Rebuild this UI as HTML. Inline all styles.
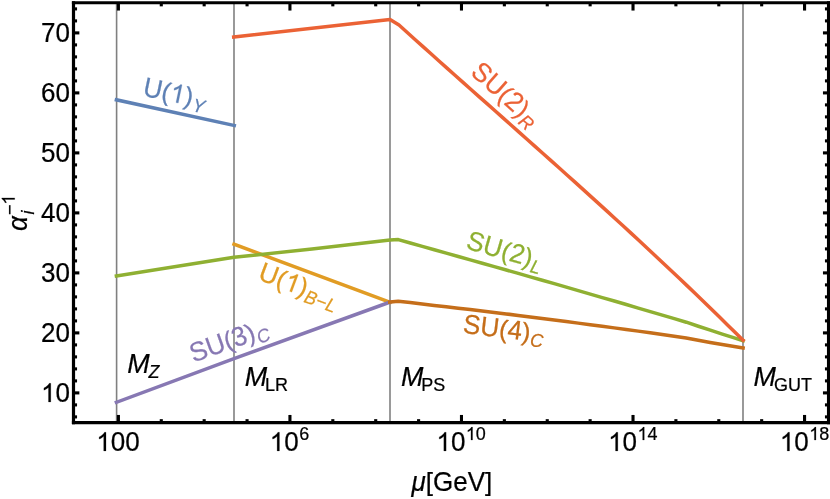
<!DOCTYPE html>
<html><head><meta charset="utf-8"><title>plot</title>
<style>
html,body{margin:0;padding:0;background:#fff;}
body{width:830px;height:499px;overflow:hidden;}
svg{display:block;will-change:transform;transform:translateZ(0);}
text{font-family:"Liberation Sans",sans-serif;}
</style></head><body>
<svg width="830" height="499" viewBox="0 0 830 499">
<rect width="830" height="499" fill="#fff"/>

<g stroke="#808080" stroke-width="1.6">
<line x1="116.6" y1="2.8" x2="116.6" y2="422.7"/>
<line x1="234.0" y1="2.8" x2="234.0" y2="422.7"/>
<line x1="390.0" y1="2.8" x2="390.0" y2="422.7"/>
<line x1="743.0" y1="2.8" x2="743.0" y2="422.7"/>
</g>
<g>
<polyline points="116.4,99.8 234.3,125.5" fill="none" stroke="#5e81b5" stroke-width="3.5" stroke-linecap="square" stroke-linejoin="round"/>
<polyline points="234,244.2 390,302.3" fill="none" stroke="#e19c24" stroke-width="3.5" stroke-linecap="square" stroke-linejoin="round"/>
<polyline points="116.4,276.0 234,257.3 312,248.9 390,240.0 398.3,239.6 410.3,242.97 422.3,246.35 434.3,249.72 446.3,253.1 458.3,256.47 470.3,259.84 482.3,263.22 494.3,266.6 506.3,270.01 518.3,273.41 530.3,276.82 542.3,280.24 554.3,283.67 566.3,287.12 578.3,290.6 590.3,294.07 602.3,297.56 614.3,301.05 626.3,304.55 638.3,308.07 650.3,311.59 662.3,315.12 674.3,318.66 686.3,322.21 698.3,326.25 710.3,330.18 722.3,334.07 734.3,337.92 743.1,340.7" fill="none" stroke="#8fb032" stroke-width="3.5" stroke-linecap="square" stroke-linejoin="round"/>
<polyline points="233.7,37.0 390,19.4 399,25.06 407,32.28 415,39.47 423,46.65 431,53.81 439,60.96 447,68.1 455,75.23 463,82.35 471,89.46 479,96.57 487,103.67 495,110.78 503,117.88 511,124.99 519,132.11 527,139.22 535,146.35 543,153.49 551,160.64 559,167.8 567,174.97 575,182.17 583,189.38 591,196.61 599,203.86 607,211.14 615,218.45 623,225.78 631,233.14 639,240.53 647,247.96 655,255.42 663,262.91 671,270.45 679,278.02 687,285.64 695,293.3 703,301.0 711,308.75 719,316.56 727,324.41 735,332.31 743.1,340.37" fill="none" stroke="#eb6235" stroke-width="3.5" stroke-linecap="square" stroke-linejoin="round"/>
<polyline points="116.4,402.3 234,358.7 390,302.1" fill="none" stroke="#8778b3" stroke-width="3.5" stroke-linecap="square" stroke-linejoin="round"/>
<polyline points="389.7,302.1 398.2,301.2 410.2,302.6 422.2,303.99 434.2,305.39 446.2,306.79 458.2,308.18 470.2,309.56 482.2,310.96 494.2,312.4 506.2,313.89 518.2,315.4 530.2,316.92 542.2,318.46 554.2,320.0 566.2,321.56 578.2,323.13 590.2,324.71 602.2,326.29 614.2,327.88 626.2,329.49 638.2,331.12 650.2,332.78 662.2,334.47 674.2,336.19 686.2,337.95 698.2,340.27 710.2,342.43 722.2,344.53 734.2,346.56 743.1,348.0" fill="none" stroke="#c56e1a" stroke-width="3.5" stroke-linecap="square" stroke-linejoin="round"/>
</g>
<g stroke="#000" stroke-linecap="butt"><line x1="71.9" y1="2.8" x2="830.1" y2="2.8" stroke-width="2.9"/><line x1="71.9" y1="422.7" x2="830.1" y2="422.7" stroke-width="3.2"/><line x1="73.5" y1="1.3499999999999999" x2="73.5" y2="424.3" stroke-width="3.2"/><line x1="828.5" y1="1.3499999999999999" x2="828.5" y2="424.3" stroke-width="3.1"/></g>
<g stroke="#000" stroke-width="3.1">
<line x1="73.5" y1="416.9" x2="77.05" y2="416.9"/>
<line x1="828.5" y1="416.9" x2="824.95" y2="416.9"/>
<line x1="73.5" y1="404.9" x2="77.05" y2="404.9"/>
<line x1="828.5" y1="404.9" x2="824.95" y2="404.9"/>
<line x1="73.5" y1="392.9" x2="79.35" y2="392.9"/>
<line x1="828.5" y1="392.9" x2="822.95" y2="392.9"/>
<line x1="73.5" y1="380.9" x2="77.05" y2="380.9"/>
<line x1="828.5" y1="380.9" x2="824.95" y2="380.9"/>
<line x1="73.5" y1="368.9" x2="77.05" y2="368.9"/>
<line x1="828.5" y1="368.9" x2="824.95" y2="368.9"/>
<line x1="73.5" y1="356.9" x2="77.05" y2="356.9"/>
<line x1="828.5" y1="356.9" x2="824.95" y2="356.9"/>
<line x1="73.5" y1="344.9" x2="77.05" y2="344.9"/>
<line x1="828.5" y1="344.9" x2="824.95" y2="344.9"/>
<line x1="73.5" y1="332.9" x2="79.35" y2="332.9"/>
<line x1="828.5" y1="332.9" x2="822.95" y2="332.9"/>
<line x1="73.5" y1="320.9" x2="77.05" y2="320.9"/>
<line x1="828.5" y1="320.9" x2="824.95" y2="320.9"/>
<line x1="73.5" y1="308.9" x2="77.05" y2="308.9"/>
<line x1="828.5" y1="308.9" x2="824.95" y2="308.9"/>
<line x1="73.5" y1="296.9" x2="77.05" y2="296.9"/>
<line x1="828.5" y1="296.9" x2="824.95" y2="296.9"/>
<line x1="73.5" y1="284.9" x2="77.05" y2="284.9"/>
<line x1="828.5" y1="284.9" x2="824.95" y2="284.9"/>
<line x1="73.5" y1="272.9" x2="79.35" y2="272.9"/>
<line x1="828.5" y1="272.9" x2="822.95" y2="272.9"/>
<line x1="73.5" y1="260.9" x2="77.05" y2="260.9"/>
<line x1="828.5" y1="260.9" x2="824.95" y2="260.9"/>
<line x1="73.5" y1="248.9" x2="77.05" y2="248.9"/>
<line x1="828.5" y1="248.9" x2="824.95" y2="248.9"/>
<line x1="73.5" y1="236.9" x2="77.05" y2="236.9"/>
<line x1="828.5" y1="236.9" x2="824.95" y2="236.9"/>
<line x1="73.5" y1="224.9" x2="77.05" y2="224.9"/>
<line x1="828.5" y1="224.9" x2="824.95" y2="224.9"/>
<line x1="73.5" y1="212.9" x2="79.35" y2="212.9"/>
<line x1="828.5" y1="212.9" x2="822.95" y2="212.9"/>
<line x1="73.5" y1="200.9" x2="77.05" y2="200.9"/>
<line x1="828.5" y1="200.9" x2="824.95" y2="200.9"/>
<line x1="73.5" y1="188.9" x2="77.05" y2="188.9"/>
<line x1="828.5" y1="188.9" x2="824.95" y2="188.9"/>
<line x1="73.5" y1="176.9" x2="77.05" y2="176.9"/>
<line x1="828.5" y1="176.9" x2="824.95" y2="176.9"/>
<line x1="73.5" y1="164.9" x2="77.05" y2="164.9"/>
<line x1="828.5" y1="164.9" x2="824.95" y2="164.9"/>
<line x1="73.5" y1="152.9" x2="79.35" y2="152.9"/>
<line x1="828.5" y1="152.9" x2="822.95" y2="152.9"/>
<line x1="73.5" y1="140.9" x2="77.05" y2="140.9"/>
<line x1="828.5" y1="140.9" x2="824.95" y2="140.9"/>
<line x1="73.5" y1="128.9" x2="77.05" y2="128.9"/>
<line x1="828.5" y1="128.9" x2="824.95" y2="128.9"/>
<line x1="73.5" y1="116.9" x2="77.05" y2="116.9"/>
<line x1="828.5" y1="116.9" x2="824.95" y2="116.9"/>
<line x1="73.5" y1="104.9" x2="77.05" y2="104.9"/>
<line x1="828.5" y1="104.9" x2="824.95" y2="104.9"/>
<line x1="73.5" y1="92.9" x2="79.35" y2="92.9"/>
<line x1="828.5" y1="92.9" x2="822.95" y2="92.9"/>
<line x1="73.5" y1="80.9" x2="77.05" y2="80.9"/>
<line x1="828.5" y1="80.9" x2="824.95" y2="80.9"/>
<line x1="73.5" y1="68.9" x2="77.05" y2="68.9"/>
<line x1="828.5" y1="68.9" x2="824.95" y2="68.9"/>
<line x1="73.5" y1="56.9" x2="77.05" y2="56.9"/>
<line x1="828.5" y1="56.9" x2="824.95" y2="56.9"/>
<line x1="73.5" y1="44.9" x2="77.05" y2="44.9"/>
<line x1="828.5" y1="44.9" x2="824.95" y2="44.9"/>
<line x1="73.5" y1="32.9" x2="79.35" y2="32.9"/>
<line x1="828.5" y1="32.9" x2="822.95" y2="32.9"/>
<line x1="73.5" y1="20.9" x2="77.05" y2="20.9"/>
<line x1="828.5" y1="20.9" x2="824.95" y2="20.9"/>
<line x1="73.5" y1="8.9" x2="77.05" y2="8.9"/>
<line x1="828.5" y1="8.9" x2="824.95" y2="8.9"/>
<line x1="118.40" y1="422.7" x2="118.40" y2="414.95"/>
<line x1="118.40" y1="2.8" x2="118.40" y2="10.55"/>
<line x1="161.28" y1="422.7" x2="161.28" y2="419.15"/>
<line x1="161.28" y1="2.8" x2="161.28" y2="6.35"/>
<line x1="204.17" y1="422.7" x2="204.17" y2="419.15"/>
<line x1="204.17" y1="2.8" x2="204.17" y2="6.35"/>
<line x1="247.06" y1="422.7" x2="247.06" y2="419.15"/>
<line x1="247.06" y1="2.8" x2="247.06" y2="6.35"/>
<line x1="289.94" y1="422.7" x2="289.94" y2="414.95"/>
<line x1="289.94" y1="2.8" x2="289.94" y2="10.55"/>
<line x1="332.82" y1="422.7" x2="332.82" y2="419.15"/>
<line x1="332.82" y1="2.8" x2="332.82" y2="6.35"/>
<line x1="375.71" y1="422.7" x2="375.71" y2="419.15"/>
<line x1="375.71" y1="2.8" x2="375.71" y2="6.35"/>
<line x1="418.60" y1="422.7" x2="418.60" y2="419.15"/>
<line x1="418.60" y1="2.8" x2="418.60" y2="6.35"/>
<line x1="461.48" y1="422.7" x2="461.48" y2="414.95"/>
<line x1="461.48" y1="2.8" x2="461.48" y2="10.55"/>
<line x1="504.37" y1="422.7" x2="504.37" y2="419.15"/>
<line x1="504.37" y1="2.8" x2="504.37" y2="6.35"/>
<line x1="547.25" y1="422.7" x2="547.25" y2="419.15"/>
<line x1="547.25" y1="2.8" x2="547.25" y2="6.35"/>
<line x1="590.13" y1="422.7" x2="590.13" y2="419.15"/>
<line x1="590.13" y1="2.8" x2="590.13" y2="6.35"/>
<line x1="633.02" y1="422.7" x2="633.02" y2="414.95"/>
<line x1="633.02" y1="2.8" x2="633.02" y2="10.55"/>
<line x1="675.90" y1="422.7" x2="675.90" y2="419.15"/>
<line x1="675.90" y1="2.8" x2="675.90" y2="6.35"/>
<line x1="718.79" y1="422.7" x2="718.79" y2="419.15"/>
<line x1="718.79" y1="2.8" x2="718.79" y2="6.35"/>
<line x1="761.67" y1="422.7" x2="761.67" y2="419.15"/>
<line x1="761.67" y1="2.8" x2="761.67" y2="6.35"/>
<line x1="804.56" y1="422.7" x2="804.56" y2="414.95"/>
<line x1="804.56" y1="2.8" x2="804.56" y2="10.55"/>
</g>
<g transform="translate(70,401.95)" fill="#000" stroke="#000" stroke-width="0.22">
<path vector-effect="non-scaling-stroke" d="M763 0H583V1147Q518 1085 412.5 1023T223 930V1104Q373 1174.5 485 1275T644 1466H763Z" transform="translate(-28.92,0) scale(0.01270,-0.01270)"/>
<text transform="translate(-14.46,0) scale(1,1.04)" font-size="26">0</text>
</g>
<g transform="translate(70,341.95)" fill="#000" stroke="#000" stroke-width="0.22">
<text transform="translate(-28.92,0) scale(1,1.04)" font-size="26">20</text>
</g>
<g transform="translate(70,281.95)" fill="#000" stroke="#000" stroke-width="0.22">
<text transform="translate(-28.92,0) scale(1,1.04)" font-size="26">30</text>
</g>
<g transform="translate(70,221.95)" fill="#000" stroke="#000" stroke-width="0.22">
<text transform="translate(-28.92,0) scale(1,1.04)" font-size="26">40</text>
</g>
<g transform="translate(70,161.95)" fill="#000" stroke="#000" stroke-width="0.22">
<text transform="translate(-28.92,0) scale(1,1.04)" font-size="26">50</text>
</g>
<g transform="translate(70,101.95)" fill="#000" stroke="#000" stroke-width="0.22">
<text transform="translate(-28.92,0) scale(1,1.04)" font-size="26">60</text>
</g>
<g transform="translate(70,41.95)" fill="#000" stroke="#000" stroke-width="0.22">
<text transform="translate(-28.92,0) scale(1,1.04)" font-size="26">70</text>
</g>
<g transform="translate(118,450.9)" fill="#000" stroke="#000" stroke-width="0.22">
<path vector-effect="non-scaling-stroke" d="M763 0H583V1147Q518 1085 412.5 1023T223 930V1104Q373 1174.5 485 1275T644 1466H763Z" transform="translate(-21.69,0) scale(0.01270,-0.01270)"/>
<text transform="translate(-7.23,0) scale(1,1.04)" font-size="26">00</text>
</g>
<g transform="translate(289.45,450.9)" fill="#000" stroke="#000" stroke-width="0.22">
<path vector-effect="non-scaling-stroke" d="M763 0H583V1147Q518 1085 412.5 1023T223 930V1104Q373 1174.5 485 1275T644 1466H763Z" transform="translate(-19.72,0) scale(0.01270,-0.01270)"/>
<text transform="translate(-5.26,0) scale(1,1.04)" font-size="26">0</text>
<text transform="translate(9.7,-10.9) scale(1,1.04)" font-size="18">6</text>
</g>
<g transform="translate(461.15,450.9)" fill="#000" stroke="#000" stroke-width="0.22">
<path vector-effect="non-scaling-stroke" d="M763 0H583V1147Q518 1085 412.5 1023T223 930V1104Q373 1174.5 485 1275T644 1466H763Z" transform="translate(-24.72,0) scale(0.01270,-0.01270)"/>
<text transform="translate(-10.26,0) scale(1,1.04)" font-size="26">0</text>
<path vector-effect="non-scaling-stroke" d="M763 0H583V1147Q518 1085 412.5 1023T223 930V1104Q373 1174.5 485 1275T644 1466H763Z" transform="translate(4.7,-10.9) scale(0.00879,-0.00879)"/>
<text transform="translate(14.71,-10.9) scale(1,1.04)" font-size="18">0</text>
</g>
<g transform="translate(632.85,450.9)" fill="#000" stroke="#000" stroke-width="0.22">
<path vector-effect="non-scaling-stroke" d="M763 0H583V1147Q518 1085 412.5 1023T223 930V1104Q373 1174.5 485 1275T644 1466H763Z" transform="translate(-24.72,0) scale(0.01270,-0.01270)"/>
<text transform="translate(-10.26,0) scale(1,1.04)" font-size="26">0</text>
<path vector-effect="non-scaling-stroke" d="M763 0H583V1147Q518 1085 412.5 1023T223 930V1104Q373 1174.5 485 1275T644 1466H763Z" transform="translate(4.7,-10.9) scale(0.00879,-0.00879)"/>
<text transform="translate(14.71,-10.9) scale(1,1.04)" font-size="18">4</text>
</g>
<g transform="translate(804.55,450.9)" fill="#000" stroke="#000" stroke-width="0.22">
<path vector-effect="non-scaling-stroke" d="M763 0H583V1147Q518 1085 412.5 1023T223 930V1104Q373 1174.5 485 1275T644 1466H763Z" transform="translate(-24.72,0) scale(0.01270,-0.01270)"/>
<text transform="translate(-10.26,0) scale(1,1.04)" font-size="26">0</text>
<path vector-effect="non-scaling-stroke" d="M763 0H583V1147Q518 1085 412.5 1023T223 930V1104Q373 1174.5 485 1275T644 1466H763Z" transform="translate(4.7,-10.9) scale(0.00879,-0.00879)"/>
<text transform="translate(14.71,-10.9) scale(1,1.04)" font-size="18">8</text>
</g>
<g transform="translate(451.9,491)" fill="#000" stroke="#000" stroke-width="0.22">
<text transform="translate(-40.36,0) scale(1,1.04)" font-size="26" font-style="italic">μ</text>
<text transform="translate(-26.11,0) scale(1,0.97)" font-size="26">[</text>
<text transform="translate(-18.89,0) scale(1,1.04)" font-size="26">GeV</text>
<text transform="translate(33.13,0) scale(1,0.97)" font-size="26">]</text>
</g>
<g transform="translate(27,231.0) rotate(-90)">
<g transform="translate(0,0)" fill="#000" stroke="#000" stroke-width="0.22">
<text transform="translate(0,0) scale(1,1.04)" font-size="26" font-style="italic">α</text>
</g>
<g transform="translate(16.1,-12.3)" fill="#000" stroke="#000" stroke-width="0.22">
<text transform="translate(0,1.3) scale(1,1.04)" font-size="18">−</text>
<path vector-effect="non-scaling-stroke" d="M763 0H583V1147Q518 1085 412.5 1023T223 930V1104Q373 1174.5 485 1275T644 1466H763Z" transform="translate(10.31,0) scale(0.00879,-0.00879)"/>
</g>
<g transform="translate(16.5,6.6)" fill="#000" stroke="#000" stroke-width="0.22">
<text transform="translate(0,0) scale(1,1.04)" font-size="18" font-style="italic">i</text>
</g>
</g>
<g transform="translate(141.9,95.5) rotate(11.8)" fill="#5e81b5" stroke="#5e81b5" stroke-width="0.22">
<text transform="translate(0,0) scale(1,1.04)" font-size="26">U</text>
<text transform="translate(18.78,0) scale(1,0.97)" font-size="26">(</text>
<path vector-effect="non-scaling-stroke" d="M763 0H583V1147Q518 1085 412.5 1023T223 930V1104Q373 1174.5 485 1275T644 1466H763Z" transform="translate(27.43,0) scale(0.01270,-0.01270)"/>
<text transform="translate(41.89,0) scale(1,0.97)" font-size="26">)</text>
<text transform="translate(51.75,5) scale(1,1.04)" font-size="18" font-style="italic">Y</text>
</g>
<g transform="translate(469.5,73.8) rotate(41.6)" fill="#eb6235" stroke="#eb6235" stroke-width="0.22">
<text transform="translate(0,0) scale(1,1.04)" font-size="26">SU</text>
<text transform="translate(36.12,0) scale(1,0.97)" font-size="26">(</text>
<text transform="translate(44.78,0) scale(1,1.04)" font-size="26">2</text>
<text transform="translate(59.24,0) scale(1,0.97)" font-size="26">)</text>
<text transform="translate(68.4,5) scale(1,1.04)" font-size="18" font-style="italic">R</text>
</g>
<g transform="translate(464.9,248.3) rotate(15.9)" fill="#8fb032" stroke="#8fb032" stroke-width="0.22">
<text transform="translate(0,0) scale(1,1.04)" font-size="26">SU</text>
<text transform="translate(36.12,0) scale(1,0.97)" font-size="26">(</text>
<text transform="translate(44.78,0) scale(1,1.04)" font-size="26">2</text>
<text transform="translate(59.24,0) scale(1,0.97)" font-size="26">)</text>
<text transform="translate(68.4,5) scale(1,1.04)" font-size="18" font-style="italic">L</text>
</g>
<g transform="translate(257,279.2) rotate(20.4)" fill="#e19c24" stroke="#e19c24" stroke-width="0.22">
<text transform="translate(0,0) scale(1,1.04)" font-size="26">U</text>
<text transform="translate(18.78,0) scale(1,0.97)" font-size="26">(</text>
<path vector-effect="non-scaling-stroke" d="M763 0H583V1147Q518 1085 412.5 1023T223 930V1104Q373 1174.5 485 1275T644 1466H763Z" transform="translate(27.43,0) scale(0.01270,-0.01270)"/>
<text transform="translate(41.89,0) scale(1,0.97)" font-size="26">)</text>
<text transform="translate(51.05,5) scale(1,1.04)" font-size="18" font-style="italic">B−L</text>
</g>
<g transform="translate(193.4,362.7) rotate(-20)" fill="#8778b3" stroke="#8778b3" stroke-width="0.22">
<text transform="translate(0,0) scale(1,1.04)" font-size="26">SU</text>
<text transform="translate(36.12,0) scale(1,0.97)" font-size="26">(</text>
<text transform="translate(44.78,0) scale(1,1.04)" font-size="26">3</text>
<text transform="translate(59.24,0) scale(1,0.97)" font-size="26">)</text>
<text transform="translate(68.4,5) scale(1,1.04)" font-size="18" font-style="italic">C</text>
</g>
<g transform="translate(462.3,332.8) rotate(6.9)" fill="#c56e1a" stroke="#c56e1a" stroke-width="0.22">
<text transform="translate(0,0) scale(1,1.04)" font-size="26">SU</text>
<text transform="translate(36.12,0) scale(1,0.97)" font-size="26">(</text>
<text transform="translate(44.78,0) scale(1,1.04)" font-size="26">4</text>
<text transform="translate(59.24,0) scale(1,0.97)" font-size="26">)</text>
<text transform="translate(68.4,5) scale(1,1.04)" font-size="18" font-style="italic">C</text>
</g>
<g transform="translate(127.3,373.3)" fill="#000" stroke="#000" stroke-width="0.22">
<text transform="translate(0,0) scale(1.035,1.04)" font-size="26" font-style="italic">M</text>
<text transform="translate(21.32,5) scale(1,1.04)" font-size="18" font-style="italic">Z</text>
</g>
<g transform="translate(244.8,385.6)" fill="#000" stroke="#000" stroke-width="0.22">
<text transform="translate(0,0) scale(1.035,1.04)" font-size="26" font-style="italic">M</text>
<text transform="translate(20.12,5) scale(1,1.04)" font-size="18">LR</text>
</g>
<g transform="translate(401,385.6)" fill="#000" stroke="#000" stroke-width="0.22">
<text transform="translate(0,0) scale(1.035,1.04)" font-size="26" font-style="italic">M</text>
<text transform="translate(20.22,5) scale(1,1.04)" font-size="18">PS</text>
</g>
<g transform="translate(753.4,385.6)" fill="#000" stroke="#000" stroke-width="0.22">
<text transform="translate(0,0) scale(1.035,1.04)" font-size="26" font-style="italic">M</text>
<text transform="translate(20.62,5) scale(1,1.04)" font-size="18">GUT</text>
</g>
</svg></body></html>
